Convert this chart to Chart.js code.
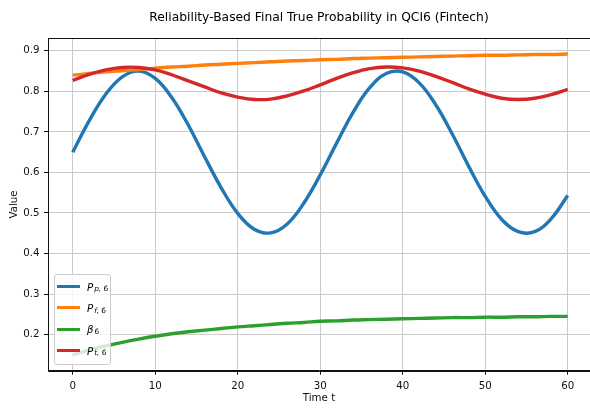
<!DOCTYPE html>
<html lang="en">
<head>
<meta charset="UTF-8">
<title>Reliability-Based Final True Probability in QCI6 (Fintech)</title>
<script src="https://cdn.jsdelivr.net/npm/chart.js@4.4.0/dist/chart.umd.min.js"></script>
<style>
    body {
        margin: 0;
        background: #fff;
        font-family: "DejaVu Sans", sans-serif;
    }
    #wrap {
        position: relative;
        width: 590px;
        height: 412px;
    }
    #legend {
        position: absolute;
        left: 54px;
        top: 274px;
        width: 55px;
        padding: 1px 0 3px 0;
        background: rgba(255, 255, 255, 0.8);
        border: 1px solid #cccccc;
        border-radius: 3px;
        font-size: 10.25px;
        color: #000;
    }
    .row {
        height: 21.3px;
        display: flex;
        align-items: center;
    }
    .swatch {
        width: 23px;
        height: 3px;
        margin-left: 2px;
        margin-right: 7px;
    }
    .lab {
        font-style: italic;
        white-space: nowrap;
    }
    .lab sub {
        font-size: 0.72em;
        position: relative;
        top: 0.1em;
        vertical-align: baseline;
        margin-left: 1px;
    }
    .lab .up { font-style: normal; }
</style>
</head>
<body>
<div id="wrap">
    <canvas id="chart" width="590" height="412"></canvas>
    <div id="legend"></div>
</div>

<script>
    // time axis, sampled every 2 units
    const times = [0, 2, 4, 6, 8, 10, 12, 14, 16, 18, 20, 22, 24, 26, 28, 30,
                   32, 34, 36, 38, 40, 42, 44, 46, 48, 50, 52, 54, 56, 58, 60];

    const pP = [0.650, 0.728, 0.793, 0.836, 0.850, 0.832, 0.785, 0.717, 0.638, 0.562,
                0.499, 0.460, 0.451, 0.473, 0.524, 0.594, 0.673, 0.749, 0.809, 0.844,
                0.848, 0.821, 0.767, 0.695, 0.615, 0.541, 0.484, 0.454, 0.454, 0.486, 0.543];
    const pF = [0.840, 0.844, 0.848, 0.851, 0.854, 0.857, 0.860, 0.862, 0.865, 0.867,
                0.869, 0.871, 0.873, 0.875, 0.876, 0.878, 0.879, 0.881, 0.882, 0.883,
                0.884, 0.885, 0.886, 0.887, 0.888, 0.889, 0.889, 0.890, 0.891, 0.891, 0.892];
    const beta = [0.150, 0.162, 0.172, 0.181, 0.189, 0.196, 0.202, 0.207, 0.211, 0.215,
                  0.219, 0.222, 0.225, 0.228, 0.230, 0.233, 0.234, 0.236, 0.237, 0.238,
                  0.239, 0.240, 0.241, 0.242, 0.242, 0.243, 0.243, 0.244, 0.244, 0.245, 0.245];
    const pT = [0.827, 0.842, 0.853, 0.859, 0.859, 0.853, 0.841, 0.826, 0.811, 0.796,
                0.786, 0.780, 0.781, 0.789, 0.801, 0.816, 0.832, 0.846, 0.856, 0.860,
                0.858, 0.850, 0.837, 0.822, 0.806, 0.793, 0.783, 0.780, 0.783, 0.792, 0.805];

    const symbols = ['P', 'P', 'β', 'P'];
    const subs = ['p, ', 'f, ', '', 't, '];
    const colors = ['#1f77b4', '#ff7f0e', '#2ca02c', '#d62728'];
    const series = [pP, pF, beta, pT];

    const xTicks = [0, 10, 20, 30, 40, 50, 60];
    const yTicks = [0.2, 0.3, 0.4, 0.5, 0.6, 0.7, 0.8, 0.9];

    const FONT = 'DejaVu Sans';
    const INK = '#111';

    // matplotlib-like box round the axes
    const frame = {
        id: 'frame',
        afterDatasetsDraw(chart) {
            const { ctx, chartArea: a } = chart;
            ctx.save();
            ctx.strokeStyle = INK;
            ctx.lineWidth = 1;
            ctx.beginPath();
            ctx.moveTo(Math.round(a.left) + 0.5, Math.round(a.bottom) + 0.5);
            ctx.lineTo(Math.round(a.left) + 0.5, Math.round(a.top) + 0.5);
            ctx.lineTo(a.right, Math.round(a.top) + 0.5);
            ctx.moveTo(Math.round(a.left) + 0.5, Math.round(a.bottom) + 0.5);
            ctx.lineTo(a.right, Math.round(a.bottom) + 0.5);
            ctx.stroke();
            ctx.restore();
        }
    };

    const datasets = series.map((vals, i) => ({
        label: symbols[i] + subs[i] + '6',
        data: times.map((t, k) => ({ x: t, y: vals[k] })),
        borderColor: colors[i],
        backgroundColor: colors[i],
        borderWidth: 3.4,
        pointRadius: 0,
        tension: 0.4,
        fill: false,
        order: series.length - i
    }));

    new Chart(document.getElementById('chart'), {
        type: 'line',
        data: { datasets: datasets },
        options: {
            responsive: false,
            animation: false,
            events: [],
            layout: { padding: 0 },
            plugins: {
                legend: { display: false },
                tooltip: { enabled: false },
                title: {
                    display: true,
                    fullSize: false,
                    text: 'Reliability-Based Final True Probability in QCI6 (Fintech)',
                    color: '#000',
                    font: { family: FONT, size: 12.3, weight: 'normal' },
                    padding: { top: 10.5, bottom: 13 }
                }
            },
            scales: {
                x: {
                    type: 'linear',
                    min: -3,
                    max: 62.7,
                    afterBuildTicks: s => { s.ticks = xTicks.map(v => ({ value: v })); },
                    afterFit: s => { s.height = 41.3; },
                    grid: { color: '#cbcbcb', lineWidth: 1, tickLength: 4, tickColor: INK },
                    border: { color: INK, width: 1 },
                    ticks: {
                        color: INK,
                        font: { family: FONT, size: 10.25 },
                        padding: 5,
                        maxRotation: 0,
                        autoSkip: false
                    },
                    title: {
                        display: true,
                        text: 'Time t',
                        color: INK,
                        font: { family: FONT, size: 10.25 },
                        padding: { top: 0, bottom: 8 }
                    }
                },
                y: {
                    min: 0.111,
                    max: 0.931,
                    afterBuildTicks: s => { s.ticks = yTicks.map(v => ({ value: v })); },
                    afterFit: s => { s.width = 48; },
                    grid: { color: '#cbcbcb', lineWidth: 1, tickLength: 4, tickColor: INK },
                    border: { color: INK, width: 1 },
                    ticks: {
                        color: INK,
                        font: { family: FONT, size: 10.25 },
                        padding: 4.5,
                        callback: v => v.toFixed(1)
                    },
                    title: {
                        display: true,
                        text: 'Value',
                        color: INK,
                        font: { family: FONT, size: 10.25 },
                        padding: { top: 8, bottom: 0 }
                    }
                }
            }
        },
        plugins: [frame]
    });

    // legend with subscripts, built from the same names and colours
    const legend = document.getElementById('legend');
    symbols.forEach((s, i) => {
        const row = document.createElement('div');
        row.className = 'row';
        const sw = document.createElement('span');
        sw.className = 'swatch';
        sw.style.background = colors[i];
        const lab = document.createElement('span');
        lab.className = 'lab';
        lab.innerHTML = s + '<sub>' + subs[i] + '<span class="up">6</span></sub>';
        row.appendChild(sw);
        row.appendChild(lab);
        legend.appendChild(row);
    });
</script>
</body>
</html>
